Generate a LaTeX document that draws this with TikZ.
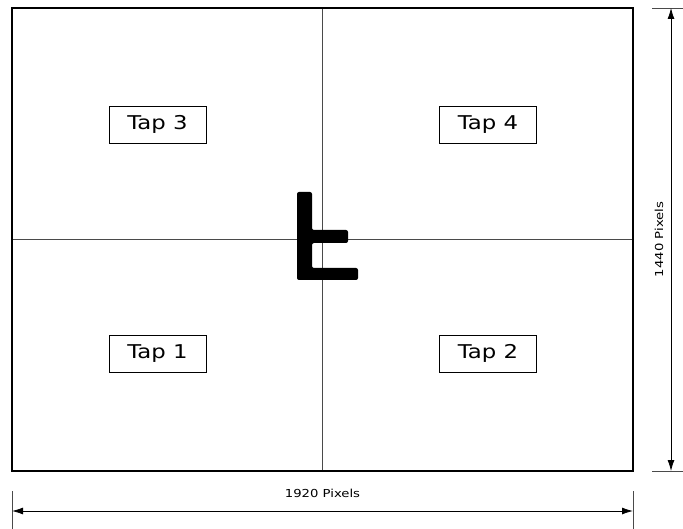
\documentclass[tikz,border=0pt]{standalone}
\usepackage{fontspec}
\setmainfont{DejaVu Sans}[FakeStretch=1.2]
\usetikzlibrary{arrows.meta,positioning}
\definecolor{linegray}{HTML}{4A4A4A}

\begin{document}
\begin{tikzpicture}[x=1pt,y=-1pt,
    tap/.style={draw,line width=0.8pt,minimum width=97pt,minimum height=37pt,inner sep=0pt,font=\fontsize{19}{22}\selectfont},
    dimarr/.style={{Latex[length=11pt,width=7pt]}-{Latex[length=11pt,width=7pt]},line width=0.8pt},
    ext/.style={linegray,line width=0.7pt},
    lbl/.style={font=\fontsize{11}{13}\selectfont}
]
\useasboundingbox (0,0) rectangle (683,529);
\coordinate (TL) at (12,8);
\coordinate (BR) at (633,471);
\coordinate (C) at (322.5,239.5);

% quadrants
\draw[ext] (C |- TL) -- (C |- BR);
\draw[ext] (TL |- C) -- (BR |- C);
\draw[line width=2.6pt] (TL) rectangle (BR);

\node[tap] (T3) at (157.5,124.5) {Tap 3};
\node[tap] (T4) at (488,124.5) {Tap 4};
\node[tap] (T1) at (157.5,353.5) {Tap 1};
\node[tap] (T2) at (488,353.5) {Tap 2};

% orientation mark
\fill[rounded corners=2pt] (297,192) -- (312,192) -- (312,230) -- (348,230) -- (348,243)
    -- (312,243) -- (312,268) -- (358,268) -- (358,280) -- (297,280) -- cycle;

% width
\coordinate (WL) at (12,511);
\coordinate (WR) at (633,511);
\draw[ext] (12,491) -- (12,529);
\draw[ext] (633,491) -- (633,529);
\draw[dimarr] (WL) -- (WR);
\node[lbl] (W) at (322.5,493) {1920 Pixels};

% height
\coordinate (HT) at (671,8);
\coordinate (HB) at (671,471);
\draw[ext] (652,8) -- (683,8);
\draw[ext] (652,471) -- (683,471);
\draw[dimarr] (HT) -- (HB);
\node[lbl,rotate=90] (H) at (659,239.5) {1440 Pixels};
\end{tikzpicture}
\end{document}
